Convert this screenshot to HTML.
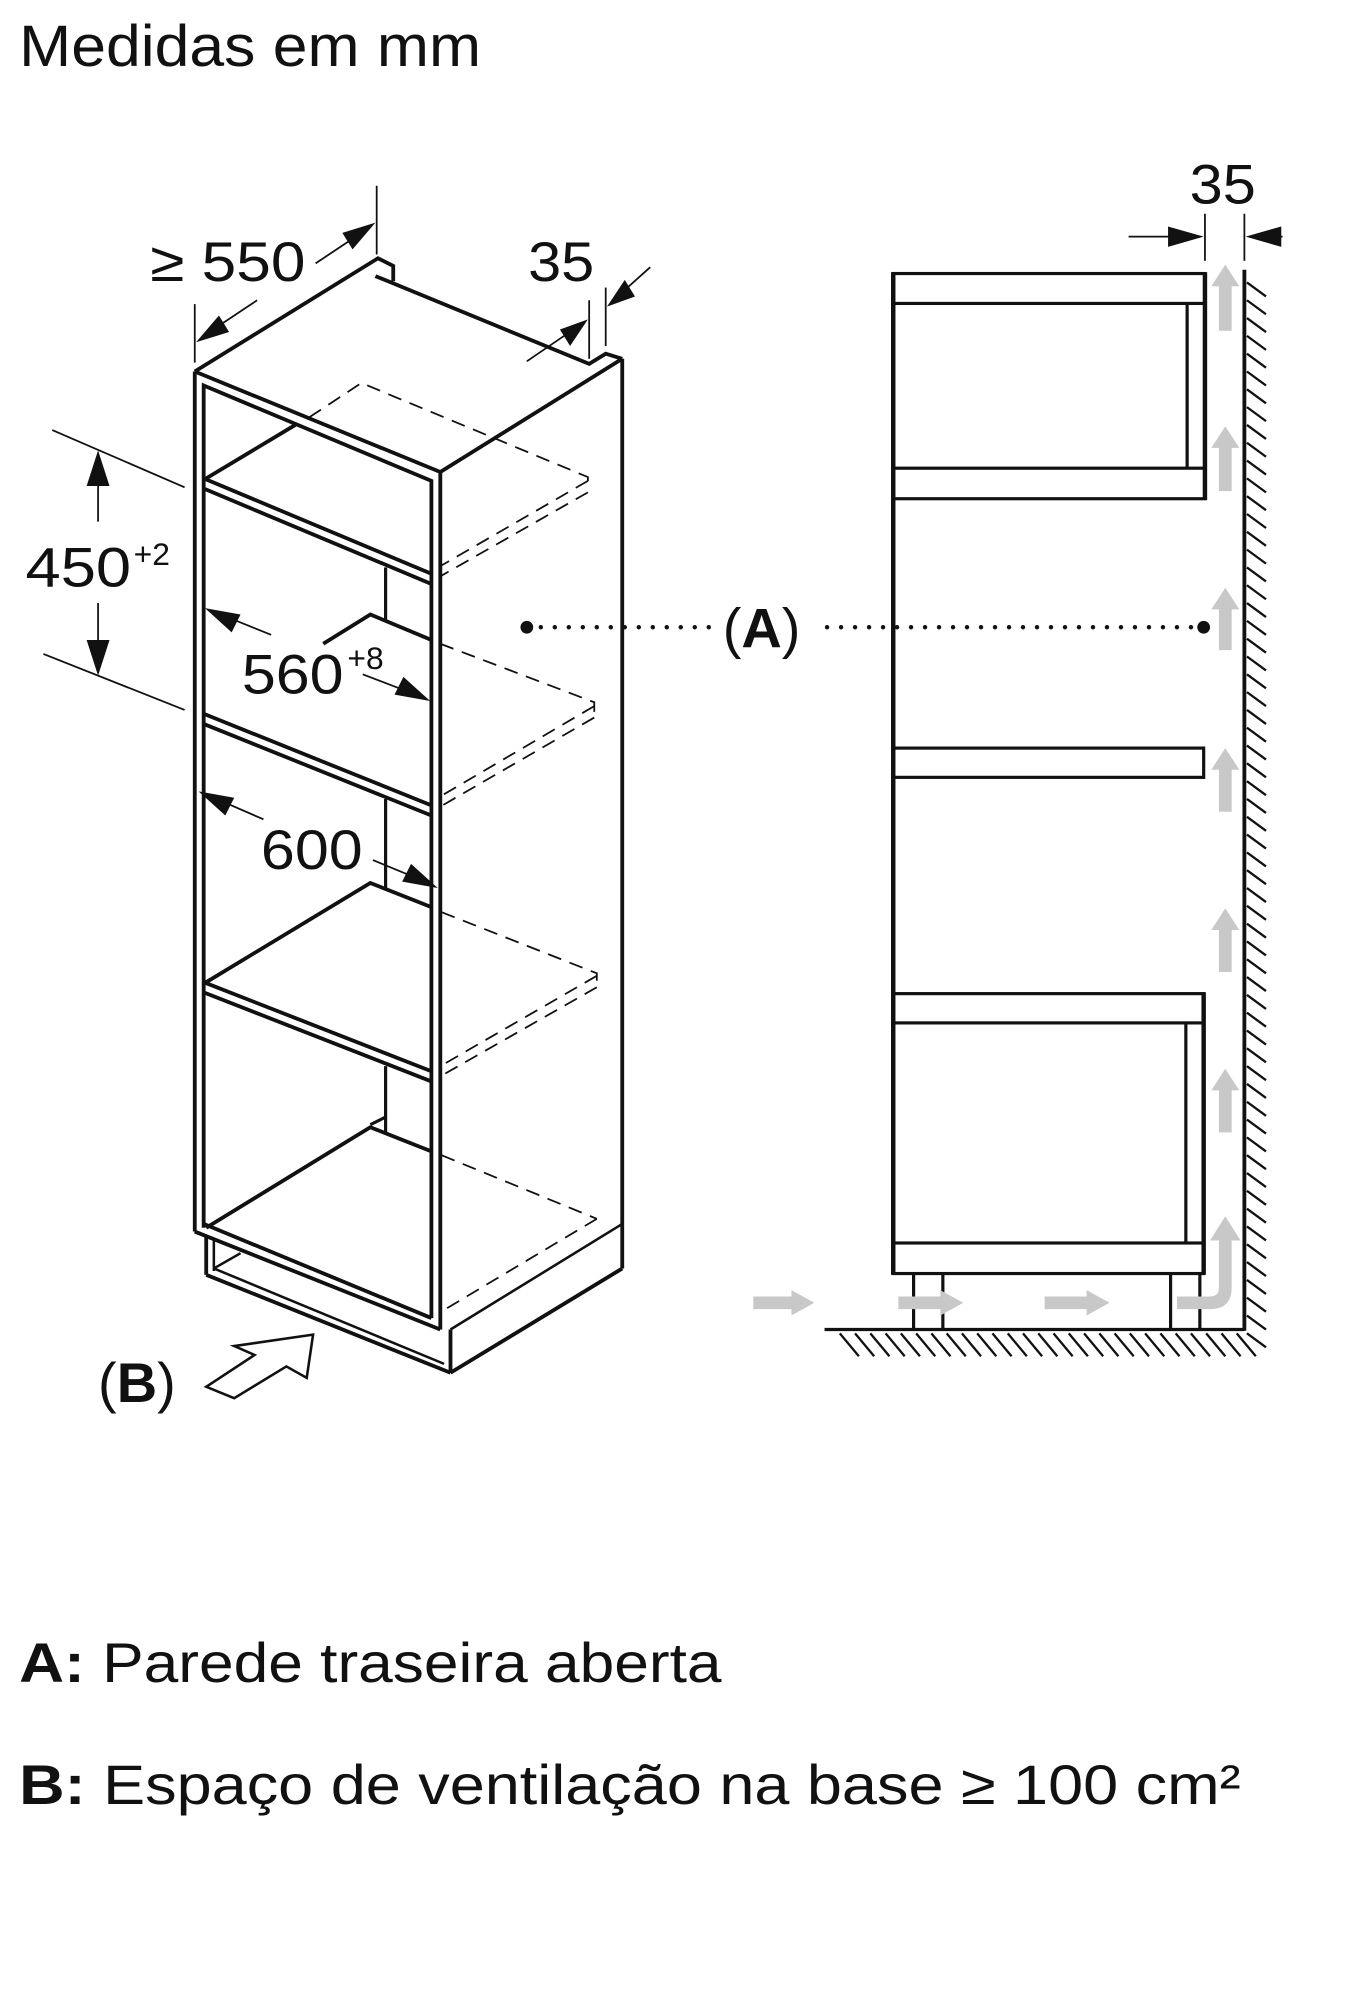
<!DOCTYPE html>
<html><head><meta charset="utf-8"><style>
html,body{margin:0;padding:0;background:#fff;}
svg{display:block;}
text{font-family:"Liberation Sans",Arial,sans-serif;fill:#111;}
</style></head><body>
<svg width="1345" height="2000" viewBox="0 0 1057 1572" xmlns="http://www.w3.org/2000/svg">

<text x="15" y="52" font-size="46" textLength="363" lengthAdjust="spacingAndGlyphs">Medidas em mm</text>

<!-- LEFT CABINET -->
<g fill="none" stroke="#111" stroke-width="3" stroke-linejoin="miter">
<polyline points="153,292 297,203 309,209 309,221"/>
<polyline points="295,217 463,286 476,278 489,282"/>
<line x1="489" y1="282" x2="346" y2="371"/>
<line x1="153" y1="292" x2="346" y2="371"/>
<line x1="153" y1="292" x2="153" y2="968"/>
<line x1="346" y1="371" x2="346" y2="1045"/>
<line x1="489" y1="282" x2="489" y2="997"/>
<polyline points="160,965 160,303 339,378 339,1036"/>
<line x1="160" y1="376" x2="339" y2="451"/>
<line x1="160" y1="384" x2="339" y2="459"/>
<line x1="162" y1="376" x2="232" y2="334"/>
<line x1="160" y1="561" x2="339" y2="633"/>
<line x1="160" y1="569" x2="339" y2="641"/>
<polyline points="254,506 291,483 339,503"/>
<line x1="303" y1="446" x2="303" y2="487" stroke-width="2.5"/>
<line x1="160" y1="772" x2="339" y2="842"/>
<line x1="160" y1="780" x2="339" y2="850"/>
<polyline points="162,772 291,694 339,713"/>
<line x1="303" y1="628" x2="303" y2="699" stroke-width="2.5"/>
<line x1="303" y1="838" x2="303" y2="890" stroke-width="2.5"/>
<polyline points="162,965 291,886 339,905"/>
<line x1="291" y1="884" x2="303" y2="878" stroke-width="2.5"/>
<line x1="153" y1="968" x2="346" y2="1045"/>
<line x1="160" y1="962" x2="339" y2="1036"/>
<line x1="162" y1="972" x2="162" y2="1002"/>
<line x1="168" y1="975" x2="168" y2="999" stroke-width="2"/>
<line x1="162" y1="1002" x2="354" y2="1079"/>
<line x1="168" y1="997" x2="349" y2="1072" stroke-width="2"/>
<line x1="168" y1="997" x2="189" y2="985" stroke-width="2"/>
<line x1="354" y1="1045" x2="354" y2="1079"/>
<line x1="354" y1="1079" x2="489" y2="997"/>
<line x1="354" y1="1045" x2="489" y2="962" stroke-width="2"/>
</g>
<g fill="none" stroke="#111" stroke-width="1.4" stroke-dasharray="11 7">
<polyline points="243,328 284,301 462,375 462,385"/>
<line x1="462" y1="378" x2="346" y2="445"/>
<line x1="462" y1="387" x2="346" y2="453"/>
<polyline points="346,506 467,552 467,562"/>
<line x1="467" y1="555" x2="346" y2="626"/>
<line x1="467" y1="564" x2="346" y2="634"/>
<polyline points="347,717 469,765 469,774"/>
<line x1="469" y1="767" x2="346" y2="838"/>
<line x1="469" y1="776" x2="346" y2="846"/>
<line x1="347" y1="908" x2="469" y2="958"/>
<line x1="469" y1="958" x2="350" y2="1029"/>
</g>

<g stroke="#111" stroke-width="1.4" fill="none">
<line x1="153" y1="239" x2="153" y2="285"/>
<line x1="296" y1="146" x2="296" y2="200"/>
<line x1="202" y1="236" x2="160" y2="264"/>
<line x1="248" y1="207" x2="290" y2="179"/>
<line x1="463" y1="236" x2="463" y2="282"/>
<line x1="476" y1="226" x2="476" y2="272"/>
<line x1="414" y1="284" x2="455" y2="256"/>
<line x1="511" y1="210" x2="483" y2="235"/>
<line x1="41" y1="338" x2="145" y2="383"/>
<line x1="34" y1="514" x2="145" y2="558"/>
<line x1="77" y1="360" x2="77" y2="410"/>
<line x1="77" y1="474" x2="77" y2="525"/>
<line x1="166" y1="480" x2="213" y2="499"/>
<line x1="285" y1="530" x2="332" y2="548"/>
<line x1="161" y1="624" x2="207" y2="644"/>
<line x1="293" y1="676" x2="339" y2="695"/>
</g>
<g fill="#111">
<polygon points="154,269 172,248 180,261"/>
<polygon points="295,175 277,196 269,183"/>
<polygon points="462,251 448,272 440,259"/>
<polygon points="477,241 491,220 499,233"/>
<polygon points="77,354 68,382 86,382"/>
<polygon points="77,531 68,503 86,503"/>
<polygon points="161,478 189,483 182,497"/>
<polygon points="338,551 310,546 317,532"/>
<polygon points="156,622 184,627 177,641"/>
<polygon points="344,698 316,693 323,679"/>
</g>
<text x="118" y="221" font-size="44" textLength="122" lengthAdjust="spacingAndGlyphs">≥ 550</text>
<text x="415" y="221" font-size="44" textLength="52" lengthAdjust="spacingAndGlyphs">35</text>
<text x="20" y="461" font-size="44" textLength="83" lengthAdjust="spacingAndGlyphs">450</text>
<text x="105" y="444" font-size="25">+2</text>
<text x="190" y="545" font-size="44" textLength="80" lengthAdjust="spacingAndGlyphs">560</text>
<text x="273" y="526" font-size="25">+8</text>
<text x="205" y="683" font-size="44" textLength="80" lengthAdjust="spacingAndGlyphs">600</text>

<polygon points="162,1090 200,1065 184,1058 246,1049 241,1083 225,1074 184,1099" fill="#fff" stroke="#111" stroke-width="2"/>
<text x="77" y="1102" font-size="44">(<tspan font-weight="bold">B</tspan>)</text>

<line x1="425" y1="493" x2="560" y2="493" stroke="#111" stroke-width="3.5" stroke-linecap="round" stroke-dasharray="0 11"/>
<line x1="650" y1="493" x2="938" y2="493" stroke="#111" stroke-width="3.5" stroke-linecap="round" stroke-dasharray="0 11"/>
<circle cx="414" cy="493" r="5" fill="#111"/>
<circle cx="946" cy="493" r="5" fill="#111"/>
<text x="568" y="509" font-size="44">(<tspan font-weight="bold">A</tspan>)</text>

<!-- RIGHT DIAGRAM -->
<g fill="none" stroke="#111" stroke-width="2.5">
<line x1="702" y1="214" x2="702" y2="1002" stroke-width="3.5"/>
<rect x="702" y="215" width="245" height="23.5"/>
<rect x="702" y="368" width="245" height="24"/>
<line x1="947" y1="214" x2="947" y2="393" stroke-width="3.5"/>
<line x1="933" y1="238" x2="933" y2="368"/>
<rect x="702" y="588" width="244" height="23"/>
<rect x="702" y="781" width="244" height="23"/>
<rect x="702" y="977" width="244" height="24"/>
<line x1="946" y1="780" x2="946" y2="1002" stroke-width="3.5"/>
<line x1="932" y1="804" x2="932" y2="977"/>
<line x1="718" y1="1001" x2="718" y2="1045"/>
<line x1="741" y1="1001" x2="741" y2="1045"/>
<line x1="920" y1="1001" x2="920" y2="1045"/>
<line x1="943" y1="1001" x2="943" y2="1045"/>
<line x1="648" y1="1045" x2="978" y2="1045"/>
<line x1="978" y1="212" x2="978" y2="1046" stroke-width="3"/>
</g>
<path stroke="#111" stroke-width="1.8" fill="none" d="M660,1048l15,18M672,1048l15,18M684,1048l15,18M696,1048l15,18M708,1048l15,18M720,1048l15,18M732,1048l15,18M744,1048l15,18M756,1048l15,18M768,1048l15,18M780,1048l15,18M792,1048l15,18M804,1048l15,18M816,1048l15,18M828,1048l15,18M840,1048l15,18M852,1048l15,18M864,1048l15,18M876,1048l15,18M888,1048l15,18M900,1048l15,18M912,1048l15,18M924,1048l15,18M936,1048l15,18M948,1048l15,18M960,1048l15,18M972,1048l15,18"/>
<path stroke="#111" stroke-width="1.8" fill="none" d="M980,222l15,11M980,236l15,11M980,250l15,11M980,264l15,11M980,278l15,11M980,292l15,11M980,306l15,11M980,320l15,11M980,334l15,11M980,348l15,11M980,362l15,11M980,376l15,11M980,390l15,11M980,404l15,11M980,418l15,11M980,432l15,11M980,446l15,11M980,460l15,11M980,474l15,11M980,488l15,11M980,502l15,11M980,516l15,11M980,530l15,11M980,544l15,11M980,558l15,11M980,572l15,11M980,586l15,11M980,600l15,11M980,614l15,11M980,628l15,11M980,642l15,11M980,656l15,11M980,670l15,11M980,684l15,11M980,698l15,11M980,712l15,11M980,726l15,11M980,740l15,11M980,754l15,11M980,768l15,11M980,782l15,11M980,796l15,11M980,810l15,11M980,824l15,11M980,838l15,11M980,852l15,11M980,866l15,11M980,880l15,11M980,894l15,11M980,908l15,11M980,922l15,11M980,936l15,11M980,950l15,11M980,964l15,11M980,978l15,11M980,992l15,11M980,1006l15,11M980,1020l15,11M980,1034l15,11M980,1048l15,11"/>

<g fill="#c8c8c8">
<polygon points="963,208 974,225 968,225 968,260 958,260 958,225 952,225"/>
<polygon points="963,335 974,352 968,352 968,386 958,386 958,352 952,352"/>
<polygon points="963,462 974,479 968,479 968,511 958,511 958,479 952,479"/>
<polygon points="963,588 974,605 968,605 968,638 958,638 958,605 952,605"/>
<polygon points="963,714 974,731 968,731 968,764 958,764 958,731 952,731"/>
<polygon points="963,840 974,857 968,857 968,890 958,890 958,857 952,857"/>
<path d="M963,956 L975,975 L968,975 L968,1012 Q968,1029 951,1029 L925,1029 L925,1019 L951,1019 Q958,1019 958,1012 L958,975 L951,975 Z"/>
<polygon points="640,1024 622,1014 622,1019 592,1019 592,1029 622,1029 622,1034"/>
<polygon points="757,1024 739,1014 739,1019 706,1019 706,1029 739,1029 739,1034"/>
<polygon points="872,1024 854,1014 854,1019 821,1019 821,1029 854,1029 854,1034"/>
</g>

<g stroke="#111" stroke-width="1.4">
<line x1="947" y1="168" x2="947" y2="205"/>
<line x1="978" y1="168" x2="978" y2="205"/>
<line x1="887" y1="186" x2="925" y2="186"/>
<line x1="1000" y1="186" x2="1008" y2="186"/>
</g>
<g fill="#111">
<polygon points="946,186 918,178 918,194"/>
<polygon points="979,186 1007,178 1007,194"/>
</g>
<text x="935" y="160" font-size="44" textLength="52" lengthAdjust="spacingAndGlyphs">35</text>

<text x="15" y="1322" font-size="44" textLength="552" lengthAdjust="spacingAndGlyphs"><tspan font-weight="bold">A:</tspan> Parede traseira aberta</text>
<text x="15" y="1418" font-size="44" textLength="960" lengthAdjust="spacingAndGlyphs"><tspan font-weight="bold">B:</tspan> Espaço de ventilação na base ≥ 100 cm²</text>
</svg>
</body></html>
